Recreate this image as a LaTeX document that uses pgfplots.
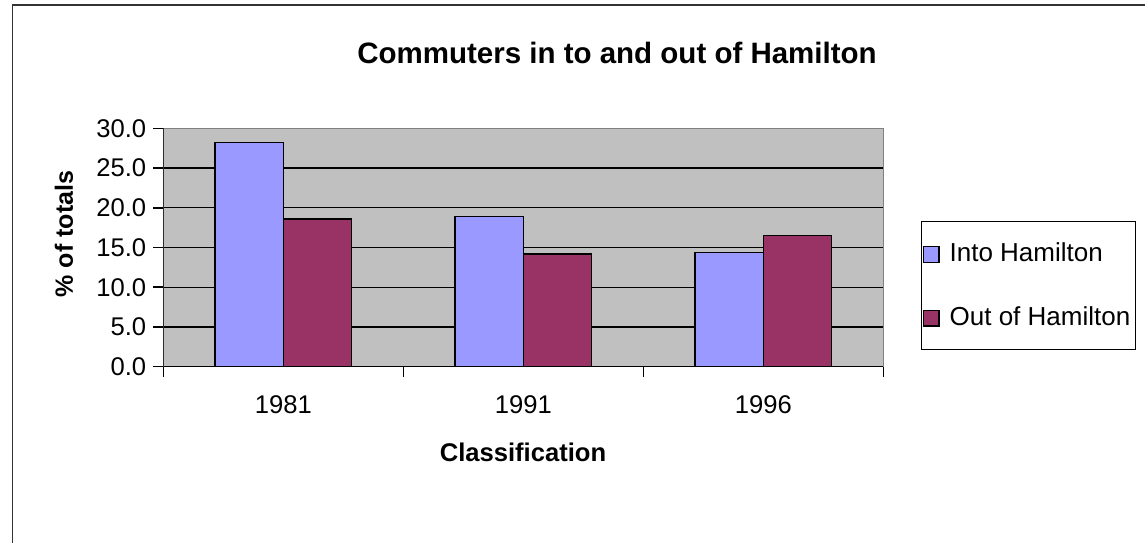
\documentclass[border=0pt]{standalone}
\usepackage{pgfplots}
\pgfplotsset{compat=1.18}
\usepackage{fontspec}
\setmainfont{Liberation Sans}
\definecolor{intoC}{HTML}{9999FF}
\definecolor{outC}{HTML}{993366}
\definecolor{plotbg}{HTML}{C0C0C0}
\newcommand\tfont{\fontsize{12.8}{15}\selectfont}

\begin{document}
\begin{tikzpicture}
\path[use as bounding box] (0,0) rectangle (572.5pt,271pt);
% chart frame
\draw[line width=0.75pt, black!80] (6.25pt,-2pt) -- (6.25pt,268.5pt) -- (580pt,268.5pt);

\begin{axis}[
  at={(81.65pt,87.65pt)}, anchor=south west,
  scale only axis, width=360pt, height=119.2pt,
  axis background/.style={fill=plotbg},
  xmin=-0.5, xmax=2.5, ymin=0, ymax=30,
  xtick={-0.5,0.5,1.5,2.5},
  x tick label as interval,
  xticklabels={1981,1991,1996},
  x tick label style={yshift=-6pt},
  ytick={0,5,...,30},
  xtick pos=left, ytick pos=left,
  tick align=outside, major tick length=5pt,
  tick style={black, line width=0.75pt},
  ymajorgrids, grid style={black, line width=0.6pt},
  axis line style={draw=gray, line width=0.75pt},
  tick label style={font=\tfont},
  /pgf/number format/.cd, fixed, fixed zerofill, precision=1, assume math mode=true,
  /pgfplots/.cd,
  legend style={at={(rel axis cs:1.0524,0.611)}, anchor=north west,
    draw=black, line width=0.5pt, font=\fontsize{13}{15}\selectfont,
    inner xsep=0.5pt, inner ysep=8.5pt, row sep=17pt, column sep=3pt,
    cells={anchor=west}},
  legend image code/.code={\draw[#1, line width=0.75pt] (0pt,-4.4pt) rectangle (7.8pt,3.4pt);},
]
\addplot[ybar, bar width=0.285, bar shift=-0.1425, fill=intoC, draw=black, line width=0.75pt]
  coordinates {(0,28.2) (1,18.9) (2,14.4)};
\addlegendentry{Into Hamilton}
\addplot[ybar, bar width=0.285, bar shift=0.1425, fill=outC, draw=black, line width=0.75pt]
  coordinates {(0,18.6) (1,14.2) (2,16.5)};
\addlegendentry{Out of Hamilton}
\draw[black, line width=0.75pt] (rel axis cs:0,1) -- (rel axis cs:0,0) -- (rel axis cs:1,0);
\end{axis}

\node[anchor=base, font=\fontsize{14.75}{17}\selectfont\bfseries] at (308.5pt,239pt)
  {Commuters in to and out of Hamilton};
\node[rotate=90, font=\fontsize{12.5}{15}\selectfont\bfseries] at (32pt,154pt) {\% of totals};
\node[font=\fontsize{12.8}{15}\selectfont\bfseries] at (261.5pt,45pt) {Classification};
\end{tikzpicture}
\end{document}
